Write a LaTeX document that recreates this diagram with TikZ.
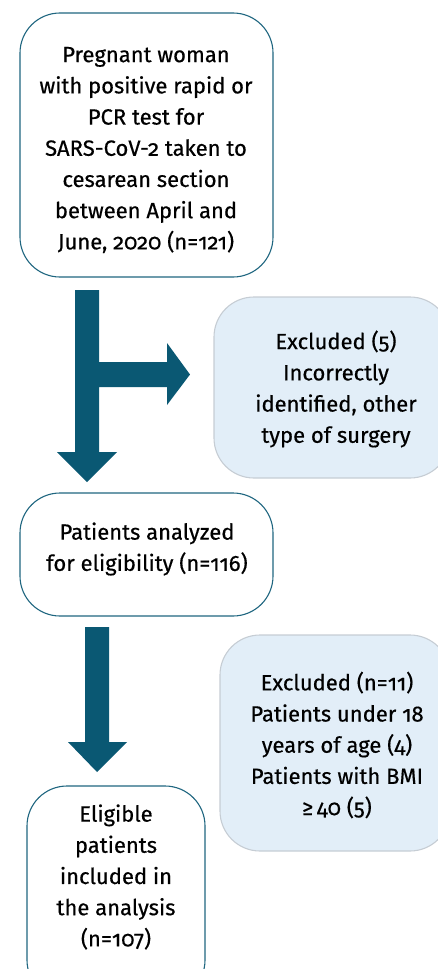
\documentclass[tikz,border=0pt]{standalone}
\usepackage{fontspec}
\setmainfont{Fira Sans}[Numbers=OldStyle,FakeBold=0.5]
\definecolor{arrowc}{HTML}{0A5873}
\definecolor{edgec}{HTML}{1F6680}
\definecolor{lightfill}{HTML}{E2EEF8}
\definecolor{lightedge}{HTML}{C6CDD4}
\begin{document}
\begin{tikzpicture}[x=1pt,y=-1pt,
  mainbox/.style={draw=edgec,line width=1.1pt,fill=white,rounded corners=40pt,inner sep=0pt},
  sidebox/.style={draw=lightedge,line width=1.1pt,fill=lightfill,rounded corners=40pt,inner sep=0pt},
  txt/.style={align=center,font=\fontsize{22}{31.2}\selectfont,inner sep=0pt},
  blockarrow/.style={fill=arrowc,draw=none}]
\useasboundingbox (0,0) rectangle (438,969);
\begin{scope}
\clip (0,0) rectangle (438,969);
% boxes
\node[mainbox,minimum width=253pt,minimum height=264pt] (b1) at (146.5,145) {};
\node[sidebox,minimum width=236pt,minimum height=181pt] (b2) at (332,387.5) {};
\node[mainbox,minimum width=253pt,minimum height=123pt] (b3) at (146.5,554.5) {};
\node[sidebox,minimum width=230pt,minimum height=216pt] (b4) at (335,743) {};
\node[mainbox,minimum width=178pt,minimum height=214pt] (b5) at (116,893) {};
% texts
\node[txt] (t1) at (146,150) {Pregnant woman\\with positive rapid or\\PCR test for\\SARS-CoV-2 taken to\\cesarean section\\between April and\\June, 2020 (n=121)};
\node[txt] (t2) at (336,389) {Excluded (5)\\Incorrectly\\identified, other\\type of surgery};
\node[txt] (t3) at (147,549) {Patients analyzed\\for eligibility (n=116)};
\node[txt] (t4) at (337,745) {Excluded (n=11)\\Patients under 18\\years of age (4)\\Patients with BMI\\≥\,40 (5)};
\node[txt] (t5) at (116,877) {Eligible\\patients\\included in\\the analysis\\(n=107)};
% block arrows
\draw[blockarrow] (75,290) -- (99,290) -- (99,362) -- (167,362) -- (167,343) -- (190,374.5)
  -- (167,405) -- (167,387) -- (99,387) -- (99,452) -- (117,452) -- (87,482) -- (57,452)
  -- (75,452) -- cycle;
\draw[blockarrow] (85,627) -- (109,627) -- (109,742) -- (127,742) -- (97,772) -- (68,742)
  -- (85,742) -- cycle;
\end{scope}
\end{tikzpicture}
\end{document}
